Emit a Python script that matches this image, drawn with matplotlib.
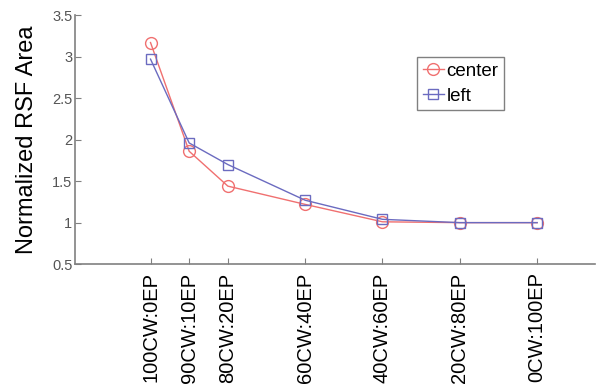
import matplotlib.pyplot as plt

plt.rcParams['font.family'] = ['Liberation Sans', 'DejaVu Sans']

# data
ep_pct = [0, 10, 20, 40, 60, 80, 100]
tick_labels = ['100CW:0EP', '90CW:10EP', '80CW:20EP', '60CW:40EP',
               '40CW:60EP', '20CW:80EP', '0CW:100EP']
center = [3.17, 1.86, 1.44, 1.22, 1.01, 1.0, 1.0]
left = [2.97, 1.96, 1.70, 1.27, 1.04, 1.0, 1.0]

fig = plt.figure(figsize=(6.06, 3.89), dpi=100)
ax = fig.add_axes([0.124, 0.321, 0.858, 0.640])

ax.plot(ep_pct, center, '-o', color='#f07070', lw=1.0, ms=8.5,
        mfc='none', mew=1.0, label='center')
ax.plot(ep_pct, left, '-s', color='#6b6bc0', lw=1.0, ms=6.5,
        mfc='none', mew=1.0, label='left')

ax.set_xlim(-19.5, 115)
ax.set_ylim(0.5, 3.5)
ax.set_xticks(ep_pct)
ax.set_xticklabels(tick_labels, rotation=90, fontsize=14.5, color='black')
ax.set_yticks([0.5, 1, 1.5, 2, 2.5, 3, 3.5])
ax.set_yticklabels(['0.5', '1', '1.5', '2', '2.5', '3', '3.5'],
                   fontsize=10.5, color='#555555')
ax.set_ylabel('Normalized RSF Area', fontsize=17, labelpad=10)

for side in ['top', 'right']:
    ax.spines[side].set_visible(False)
for side in ['left', 'bottom']:
    ax.spines[side].set_color('#808080')
    ax.spines[side].set_linewidth(1.2)
ax.tick_params(direction='in', length=4, color='#808080')
ax.tick_params(axis='y', pad=2)
ax.tick_params(axis='x', pad=6)

leg = ax.legend(loc='upper left', bbox_to_anchor=(0.658, 0.831),
                borderaxespad=0, fontsize=13.5, handlelength=1.1,
                handletextpad=0.15, labelspacing=0.4, borderpad=0.3,
                fancybox=False, framealpha=1)
leg.get_frame().set_edgecolor('#808080')

fig.savefig('out.png', dpi=100)
